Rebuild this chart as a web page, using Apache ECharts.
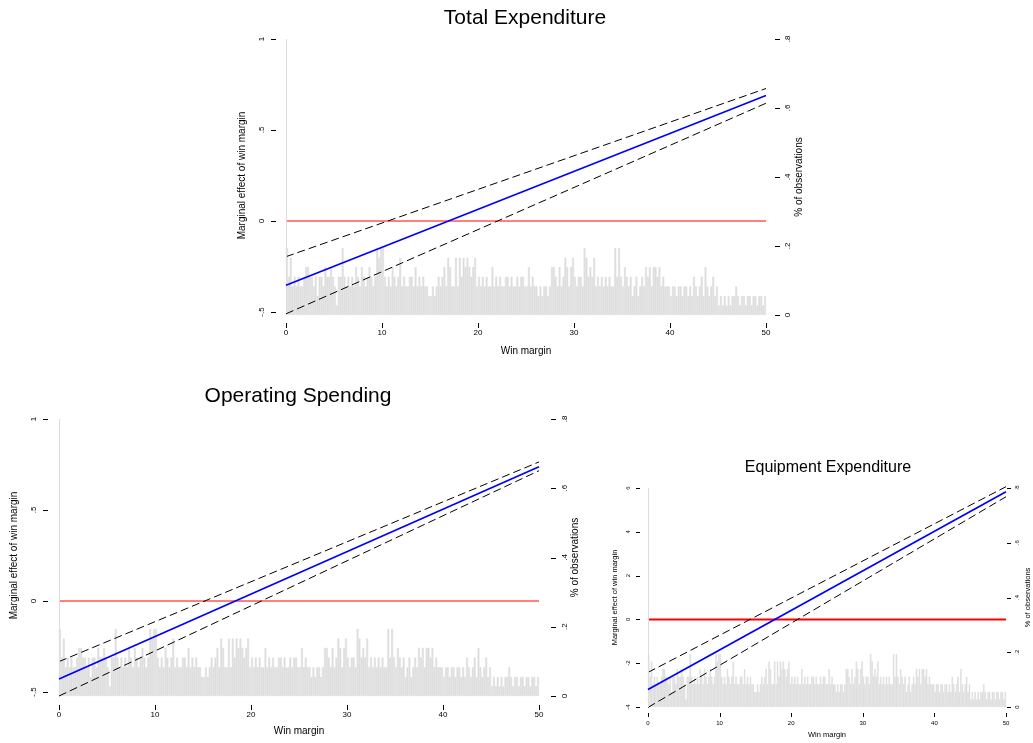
<!DOCTYPE html>
<html>
<head>
<meta charset="utf-8">
<title>Marginal effect of win margin</title>
<script src="https://cdn.jsdelivr.net/npm/echarts@6/dist/echarts.min.js"></script>
<style>
html, body { margin: 0; padding: 0; background: #fff; }
#main { width: 1033px; height: 743px; }
</style>
</head>
<body>
<div id="main"></div>
<script>
// end points of the fitted lines (win margin)
let winMargin = [0, 50];

// Total Expenditure: marginal effect and 95% band
let totalEffect = [-0.353, 0.690];
let totalUpper = [-0.196, 0.728];
let totalLower = [-0.510, 0.647];

// Operating Spending
let operEffect = [-0.429, 0.738];
let operUpper = [-0.333, 0.764];
let operLower = [-0.522, 0.716];

// Equipment Expenditure
let equipEffect = [-3.20, 5.83];
let equipUpper = [-2.42, 6.06];
let equipLower = [-4.02, 5.60];

let zeroLine = [0, 0];

// tick values
let marginTicks = [0, 10, 20, 30, 40, 50];
let effectTicks = [-0.5, 0, 0.5, 1];
let equipTicks = [-4, -2, 0, 2, 4, 6];
let shareTicks = [0, 0.2, 0.4, 0.6, 0.8];

// share of observations, bins of 0.2 win margin from 0 to 50
let histShare = [
  .194,.111,.166,.083,.111, .083,.111,.083,.083,.111, .139,.139,.111,.111,.083, .111,.055,.111,.111,.083, .139,.111,.111,.139,.111,
  .083,.028,.111,.111,.194, .111,.083,.111,.083,.111, .083,.139,.111,.083,.139, .111,.083,.111,.139,.111, .083,.111,.194,.166,.194,
  .194,.111,.083,.111,.083, .139,.111,.083,.111,.166, .083,.111,.083,.083,.111, .111,.083,.139,.083,.111, .083,.111,.083,.083,.055,
  .055,.083,.055,.083,.111, .083,.111,.139,.083,.166, .139,.083,.083,.166,.083, .166,.111,.166,.139,.166, .139,.111,.139,.166,.083,
  .111,.083,.111,.083,.111, .083,.083,.139,.083,.111, .083,.111,.083,.083,.111, .111,.083,.111,.083,.083, .111,.083,.111,.111,.083,
  .083,.139,.083,.111,.083, .083,.055,.083,.055,.083, .083,.055,.083,.139,.139, .111,.083,.139,.083,.111, .166,.139,.083,.139,.166,
  .111,.083,.111,.111,.083, .194,.166,.111,.139,.111, .166,.083,.111,.083,.111, .083,.111,.083,.111,.083, .083,.194,.111,.194,.111,
  .083,.139,.111,.083,.111, .055,.083,.111,.055,.083, .111,.083,.139,.111,.139, .083,.139,.139,.111,.139, .083,.111,.083,.083,.083,
  .055,.083,.083,.055,.083, .083,.055,.083,.083,.055, .083,.055,.111,.083,.055, .083,.111,.055,.139,.083, .055,.083,.111,.055,.083,
  .028,.055,.028,.055,.028, .055,.028,.055,.055,.083, .055,.028,.055,.055,.028, .055,.055,.028,.055,.055, .028,.055,.055,.028,.055
];

let FONT = '"Liberation Sans", Arial, sans-serif';

// Stata style labels: .5 instead of 0.5
function stataLabel(v) {
    if (v === 0) return '0';
    return String(v).replace(/^(-?)0\./, '$1.');
}

// layout of each panel
let panels = [{
    title: 'Total Expenditure', titleX: 520, titleY: 3, titleSize: 21,
    left: 286, width: 480, top: 39, lineBottom: 312, histBottom: 315,
    yMin: -0.5, yMax: 1, yStep: 0.5, yTicks: effectTicks,
    effect: totalEffect, upper: totalUpper, lower: totalLower, zeroWidth: 1,
    font: 8, nameFont: 10, tick: 5,
    yOffset: 10, yMargin: 10, yNameGap: 29,
    rOffset: 9, rMargin: 9, rNameGap: 19,
    xOffset: 11, xMargin: 6, xNameGap: 23
}, {
    title: 'Operating Spending', titleX: 293, titleY: 381, titleSize: 21,
    left: 59, width: 480, top: 419, lineBottom: 692, histBottom: 696,
    yMin: -0.5, yMax: 1, yStep: 0.5, yTicks: effectTicks,
    effect: operEffect, upper: operUpper, lower: operLower, zeroWidth: 1,
    font: 8, nameFont: 10, tick: 5,
    yOffset: 11, yMargin: 10, yNameGap: 29,
    rOffset: 12, rMargin: 10, rNameGap: 19,
    xOffset: 13, xMargin: 6, xNameGap: 21
}, {
    title: 'Equipment Expenditure', titleX: 823, titleY: 455, titleSize: 16,
    left: 648, width: 358, top: 488, lineBottom: 707, histBottom: 707,
    yMin: -4, yMax: 6, yStep: 2, yTicks: equipTicks,
    effect: equipEffect, upper: equipUpper, lower: equipLower, zeroWidth: 2,
    font: 6, nameFont: 7.5, tick: 4,
    yOffset: 8, yMargin: 9, yNameGap: 21,
    rOffset: 9, rMargin: 7, rNameGap: 17,
    xOffset: 6, xMargin: 7, xNameGap: 18
}];

let binIndex = histShare.map((v, i) => i);

let option = {
    animation: false,
    backgroundColor: '#fff',
    textStyle: { fontFamily: FONT },
    title: [],
    grid: [],
    xAxis: [],
    yAxis: [],
    series: []
};

// an axis that only carries scale, draws nothing
function silentAxis(gridIndex) {
    return { type: 'value', gridIndex: gridIndex, min: 1, max: 2, show: false };
}

// visible axis in Stata style: labels and name, ticks drawn by a series
function shownAxis(gridIndex, p, extra) {
    return Object.assign({
        type: 'value', gridIndex: gridIndex,
        axisLine: { show: false, onZero: false },
        axisTick: { show: false },
        splitLine: { show: false },
        nameLocation: 'middle',
        nameTextStyle: { fontSize: p.nameFont, color: '#000', fontFamily: FONT }
    }, extra);
}

// tick marks: short crisp lines going out from the grid edge
// dx, dy give the direction and length in pixels
function tickSeries(xi, yi, data, dx, dy) {
    return {
        type: 'custom', xAxisIndex: xi, yAxisIndex: yi, data: data,
        silent: true, clip: false, z: 6,
        renderItem: (params, api) => {
            let pt = api.coord([api.value(0), api.value(1)]);
            let x = dx === 0 ? Math.round(pt[0]) + 0.5 : Math.round(pt[0]);
            let y = dy === 0 ? Math.round(pt[1]) + 0.5 : Math.round(pt[1]);
            return {
                type: 'line',
                shape: { x1: x, y1: y, x2: x + dx, y2: y + dy },
                style: { stroke: '#000', lineWidth: 1 }
            };
        }
    };
}

panels.forEach((p, i) => {
    let g = option.grid.length;
    let gLine = g, gHist = g + 1, gLeft = g + 2, gRight = g + 3, gBottom = g + 4;

    option.title.push({
        text: p.title,
        left: p.titleX,
        top: p.titleY,
        textAlign: 'center',
        textStyle: { fontSize: p.titleSize, fontWeight: 'normal', color: '#000', fontFamily: FONT }
    });

    // plot grids, then grids whose edges carry the ticks
    option.grid.push({ left: p.left, width: p.width, top: p.top, height: p.lineBottom - p.top });
    option.grid.push({ left: p.left, width: p.width, top: p.top, height: p.histBottom - p.top });
    option.grid.push({ left: p.left - p.yOffset, width: p.width, top: p.top, height: p.lineBottom - p.top });
    option.grid.push({ left: p.left, width: p.width + p.rOffset, top: p.top, height: p.histBottom - p.top });
    option.grid.push({ left: p.left, width: p.width, top: p.top, height: p.lineBottom - p.top + p.xOffset });

    // line grid
    let xLine = option.xAxis.length;
    option.xAxis.push({ type: 'value', gridIndex: gLine, min: 0, max: 50, show: false });
    let yLine = option.yAxis.length;
    option.yAxis.push({ type: 'value', gridIndex: gLine, min: p.yMin, max: p.yMax, show: false });

    // histogram grid
    let xHist = option.xAxis.length;
    option.xAxis.push({ type: 'category', gridIndex: gHist, data: binIndex, show: false });
    let yHist = option.yAxis.length;
    option.yAxis.push({ type: 'value', gridIndex: gHist, min: 0, max: 0.8, show: false });

    // left axis
    let xL = option.xAxis.length, yL = option.yAxis.length;
    option.xAxis.push(silentAxis(gLeft));
    option.yAxis.push(shownAxis(gLeft, p, {
        position: 'left', min: p.yMin, max: p.yMax, interval: p.yStep,
        axisLabel: { fontSize: p.font, color: '#000', rotate: 90, margin: p.yMargin, formatter: stataLabel, fontFamily: FONT },
        name: 'Marginal effect of win margin', nameRotate: 90, nameGap: p.yNameGap
    }));
    option.series.push(tickSeries(xL, yL, p.yTicks.map(v => [1, v]), -p.tick, 0));

    // right axis
    let xR = option.xAxis.length, yR = option.yAxis.length;
    option.xAxis.push(silentAxis(gRight));
    option.yAxis.push(shownAxis(gRight, p, {
        position: 'right', min: 0, max: 0.8, interval: 0.2,
        axisLabel: { fontSize: p.font, color: '#000', rotate: 90, margin: p.rMargin, formatter: stataLabel, fontFamily: FONT },
        name: '% of observations', nameRotate: 90, nameGap: p.rNameGap
    }));
    option.series.push(tickSeries(xR, yR, shareTicks.map(v => [2, v]), p.tick, 0));

    // bottom axis
    let xB = option.xAxis.length, yB = option.yAxis.length;
    option.yAxis.push(silentAxis(gBottom));
    option.xAxis.push(shownAxis(gBottom, p, {
        position: 'bottom', min: 0, max: 50, interval: 10,
        axisLabel: { fontSize: p.font, color: '#000', margin: p.xMargin, fontFamily: FONT },
        name: 'Win margin', nameGap: p.xNameGap
    }));
    option.series.push(tickSeries(xB, yB, marginTicks.map(v => [v, 1]), 0, p.tick));

    // histogram
    option.series.push({
        type: 'bar', xAxisIndex: xHist, yAxisIndex: yHist,
        data: histShare, barCategoryGap: '0%', barGap: '0%',
        itemStyle: { color: '#dedede', borderColor: '#dedede', borderWidth: 0.6 },
        silent: true, z: 1
    });

    let pairs = arr => winMargin.map((x, k) => [x, arr[k]]);

    // zero reference line
    option.series.push({
        type: 'line', xAxisIndex: xLine, yAxisIndex: yLine, data: pairs(zeroLine),
        showSymbol: false, clip: false, z: 3,
        lineStyle: { color: '#ff0000', width: p.zeroWidth }
    });
    // confidence band
    [p.upper, p.lower].forEach(band => {
        option.series.push({
            type: 'line', xAxisIndex: xLine, yAxisIndex: yLine, data: pairs(band),
            showSymbol: false, clip: false, z: 4,
            lineStyle: { color: '#000', width: 1, type: [8, 4] }
        });
    });
    // marginal effect
    option.series.push({
        type: 'line', xAxisIndex: xLine, yAxisIndex: yLine, data: pairs(p.effect),
        showSymbol: false, clip: false, z: 5,
        lineStyle: { color: '#0000ff', width: 1.7 },
        markLine: {
            silent: true, symbol: 'none', label: { show: false },
            lineStyle: { color: '#dddddd', width: 1, type: 'solid' },
            data: [{ xAxis: 0 }]
        }
    });
});

let myChart = echarts.init(document.getElementById('main'));
myChart.setOption(option);
</script>
</body>
</html>
